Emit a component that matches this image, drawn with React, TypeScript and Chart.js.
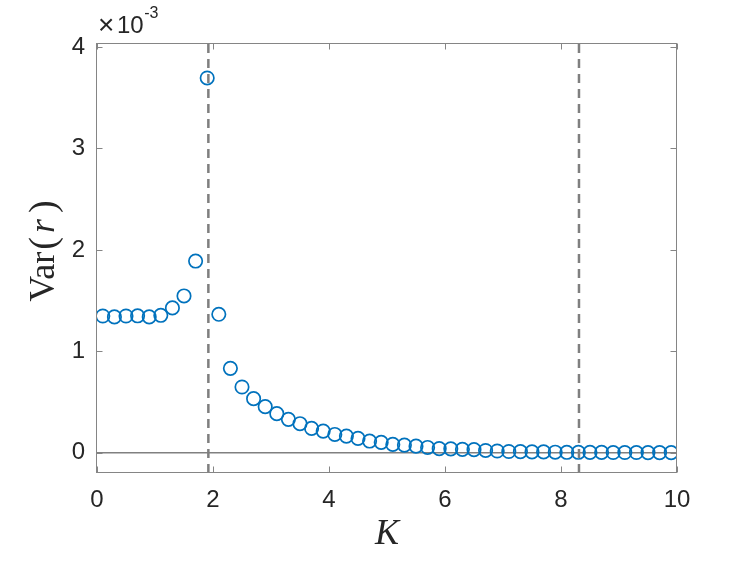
import React, { useEffect, useRef } from 'react';
import { Chart, registerables } from 'chart.js';

Chart.register(...registerables);

// ---- data ----
const K_VALUES = [
  0.1, 0.3, 0.5, 0.7, 0.9, 1.1, 1.3, 1.5, 1.7, 1.9,
  2.1, 2.3, 2.5, 2.7, 2.9, 3.1, 3.3, 3.5, 3.7, 3.9,
  4.1, 4.3, 4.5, 4.7, 4.9, 5.1, 5.3, 5.5, 5.7, 5.9,
  6.1, 6.3, 6.5, 6.7, 6.9, 7.1, 7.3, 7.5, 7.7, 7.9,
  8.1, 8.3, 8.5, 8.7, 8.9, 9.1, 9.3, 9.5, 9.7, 9.9,
];
// Var(r) in units of 1e-3
const VAR_R_E3 = [
  1.348, 1.339, 1.348, 1.350, 1.339, 1.355, 1.428, 1.546, 1.890, 3.695,
  1.365, 0.832, 0.648, 0.533, 0.454, 0.385, 0.329, 0.286, 0.240, 0.213,
  0.180, 0.164, 0.141, 0.115, 0.102, 0.082, 0.075, 0.065, 0.052, 0.040,
  0.038, 0.033, 0.030, 0.022, 0.017, 0.012, 0.011, 0.008, 0.008, 0.005,
  0.004, 0.004, 0.003, 0.003, 0.002, 0.002, 0.002, 0.001, 0.001, 0.001,
];
const X_TICKS = [0, 2, 4, 6, 8, 10];
const Y_TICKS = [0, 1, 2, 3, 4];
const V_LINES = [1.92, 8.31];
const X_MIN = 0;
const X_MAX = 10;
const Y_MIN = -0.2;
const Y_MAX = 4.04;

const AXIS_COLOR = '#858585';
const TEXT_COLOR = '#262626';
const MARKER_COLOR = '#0072BD';
const SANS = '"Liberation Sans", Arial, sans-serif';
const SERIF = '"Liberation Serif", "Times New Roman", serif';

const framePlugin = {
  id: 'frame',
  afterDatasetsDraw(chart: any) {
    const { ctx, chartArea: a, scales } = chart;
    const L = Math.round(a.left) - 0.5;
    const R = Math.round(a.right) - 0.5;
    const T = Math.round(a.top) + 0.5;
    const B = Math.round(a.bottom) - 0.5;
    ctx.save();
    ctx.strokeStyle = AXIS_COLOR;
    ctx.lineWidth = 1;
    ctx.strokeRect(L, T, R - L, B - T);
    const tl = 6;
    ctx.beginPath();
    X_TICKS.forEach((v) => {
      const px = Math.round(scales.x.getPixelForValue(v)) + 0.5;
      ctx.moveTo(px, B); ctx.lineTo(px, B - tl);
      ctx.moveTo(px, T); ctx.lineTo(px, T + tl);
    });
    Y_TICKS.forEach((v) => {
      const py = Math.round(scales.y.getPixelForValue(v)) + 0.5;
      ctx.moveTo(L, py); ctx.lineTo(L + tl, py);
      ctx.moveTo(R, py); ctx.lineTo(R - tl, py);
    });
    ctx.stroke();
    ctx.restore();
  },
  afterDraw(chart: any) {
    const { ctx, chartArea: a } = chart;
    ctx.save();
    ctx.fillStyle = TEXT_COLOR;
    // x label
    ctx.font = `italic 36px ${SERIF}`;
    ctx.textAlign = 'center';
    ctx.textBaseline = 'middle';
    ctx.fillText('K', (a.left + a.right) / 2, a.bottom + 62);
    // y label: Var(r)
    ctx.save();
    ctx.translate(45, 251);
    ctx.rotate(-Math.PI / 2);
    const parts: [string, string, number][] = [
      ['Var', `36px ${SERIF}`, 2],
      ['(', `38px ${SERIF}`, 4],
      ['r', `italic 36px ${SERIF}`, 6],
      [')', `38px ${SERIF}`, 0],
    ];
    let total = 0;
    const widths: number[] = [];
    parts.forEach(([t, f, g]) => {
      ctx.font = f;
      const w = ctx.measureText(t).width;
      widths.push(w);
      total += w + g;
    });
    let x = -total / 2;
    ctx.textAlign = 'left';
    ctx.textBaseline = 'middle';
    parts.forEach(([t, f, g], i) => {
      ctx.font = f;
      ctx.fillText(t, x, 0);
      x += widths[i] + g;
    });
    ctx.restore();
    // exponent label
    ctx.textAlign = 'left';
    ctx.textBaseline = 'alphabetic';
    ctx.font = `28px ${SANS}`;
    ctx.fillText('\u00d7', a.left + 1, a.top - 9);
    ctx.font = `24px ${SANS}`;
    ctx.fillText('10', a.left + 20, a.top - 10);
    const tw = ctx.measureText('10').width;
    ctx.font = `16px ${SANS}`;
    ctx.fillText('-3', a.left + 20 + tw + 0.5, a.top - 25);
    ctx.restore();
  },
};

export default function App() {
  const ref = useRef<HTMLCanvasElement | null>(null);
  useEffect(() => {
    if (!ref.current) return;
    const points = K_VALUES.map((k, i) => ({ x: k, y: VAR_R_E3[i] }));
    const vlineSets = V_LINES.map((v) => ({
      type: 'line' as const,
      data: [{ x: v, y: Y_MIN }, { x: v, y: Y_MAX }],
      borderColor: '#7f7f7f',
      borderWidth: 2.5,
      borderDash: [9, 6],
      pointRadius: 0,
      showLine: true,
      order: 2,
    }));
    const chart = new Chart(ref.current, {
      type: 'scatter',
      data: {
        datasets: [
          {
            data: points,
            borderColor: MARKER_COLOR,
            backgroundColor: 'rgba(0,0,0,0)',
            pointRadius: 6.7,
            pointBorderWidth: 1.7,
            pointStyle: 'circle',
            showLine: false,
            order: 0,
          } as any,
          {
            type: 'line',
            data: [{ x: X_MIN, y: 0 }, { x: X_MAX, y: 0 }],
            borderColor: '#808080',
            borderWidth: 1.5,
            pointRadius: 0,
            showLine: true,
            order: 3,
          } as any,
          ...(vlineSets as any[]),
        ],
      },
      options: {
        animation: false,
        responsive: false,
        maintainAspectRatio: false,
        events: [],
        layout: { padding: { left: 0, right: 70, top: 43, bottom: 0 } },
        plugins: {
          legend: { display: false },
          tooltip: { enabled: false },
        },
        scales: {
          x: {
            type: 'linear',
            min: X_MIN,
            max: X_MAX,
            grid: { display: false, drawTicks: false },
            border: { display: false },
            afterBuildTicks: (s: any) => { s.ticks = X_TICKS.map((v) => ({ value: v })); },
            afterFit: (s: any) => { s.height = 88; },
            ticks: {
              padding: 13,
              color: TEXT_COLOR,
              font: { family: SANS, size: 24 },
              maxRotation: 0,
              callback: (v: any) => String(v),
            },
          },
          y: {
            type: 'linear',
            min: Y_MIN,
            max: Y_MAX,
            grid: { display: false, drawTicks: false },
            border: { display: false },
            afterBuildTicks: (s: any) => { s.ticks = Y_TICKS.map((v) => ({ value: v })); },
            afterFit: (s: any) => { s.width = 97; },
            ticks: {
              padding: 12,
              color: TEXT_COLOR,
              font: { family: SANS, size: 24 },
              callback: (v: any) => String(v),
            },
          },
        },
      },
      plugins: [framePlugin],
    } as any);
    return () => chart.destroy();
  }, []);
  return (
    <div style={{ position: 'fixed', left: 0, top: 0, width: 747, height: 561, background: '#fff' }}>
      <canvas ref={ref} width={747} height={561} style={{ width: 747, height: 561, display: 'block' }} />
    </div>
  );
}
